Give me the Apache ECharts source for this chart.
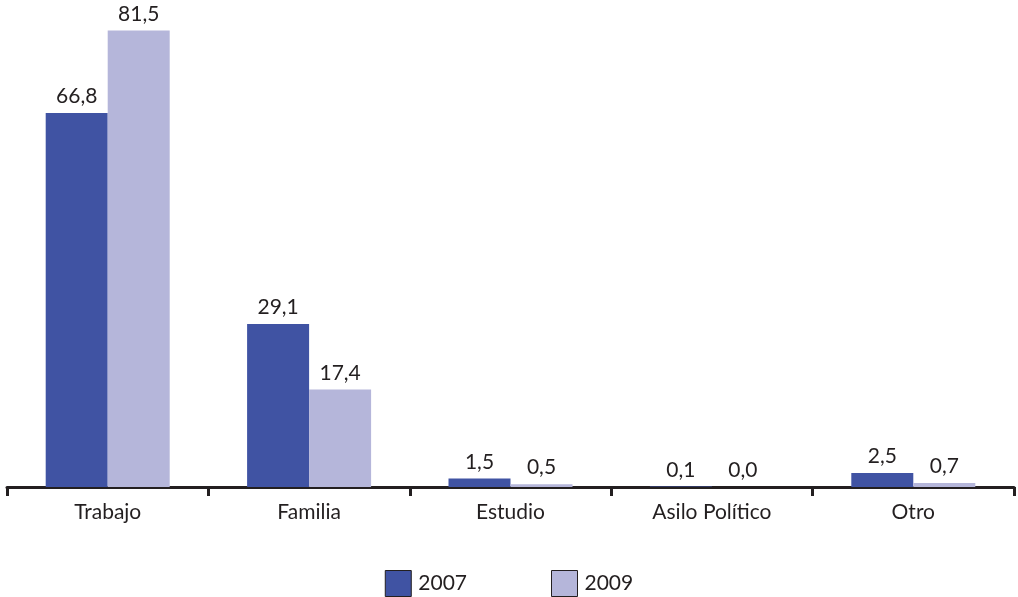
<!DOCTYPE html>
<html>
<head>
<meta charset="utf-8">
<script src="https://cdn.jsdelivr.net/npm/echarts@6/dist/echarts.min.js"></script>
<style>html,body{margin:0;padding:0;background:#fff;}#c{width:1018px;height:597px;}</style>
</head>
<body>
<div id="c"></div>
<script>
const categories = ['Trabajo', 'Familia', 'Estudio', 'Asilo Político', 'Otro'];
const seriesNames = ['2007', '2009'];
const values2007 = [66.8, 29.1, 1.5, 0.1, 2.5];
const values2009 = [81.5, 17.4, 0.5, 0.0, 0.7];

const FONT = 'Lato';
const TXT = '#231f20';
const colors = ['#4053a3', '#b5b6da'];

const chart = echarts.init(document.getElementById('c'), null, {renderer: 'canvas'});
const labelCfg = {
  show: true, position: 'top', distance: 6,
  fontFamily: FONT, fontSize: 21, color: TXT,
  formatter: p => p.value.toFixed(1).replace('.', ',')
};
chart.setOption({
  animation: false,
  textStyle: {fontFamily: FONT},
  grid: {left: 7, right: 4, top: 11, bottom: 110, containLabel: false},
  legend: {
    bottom: -5, left: 'center',
    itemWidth: 26, itemHeight: 26, itemGap: 84,
    textStyle: {fontFamily: FONT, fontSize: 21, color: TXT, padding: [0, 0, 0, 2]},
    data: seriesNames.map(n => ({name: n, itemStyle: {borderColor: '#231f20', borderWidth: 1}})),
    icon: 'rect'
  },
  xAxis: {
    type: 'category', data: categories,
    axisLine: {lineStyle: {color: TXT, width: 3}},
    axisTick: {show: true, length: 9, lineStyle: {color: TXT, width: 3}},
    axisLabel: {fontFamily: FONT, fontSize: 21, color: TXT, margin: 15}
  },
  yAxis: {
    type: 'value', min: 0, max: 85,
    show: false, splitLine: {show: false}
  },
  series: [
    {name: seriesNames[0], type: 'bar', data: values2007, barWidth: 62, barGap: '0%',
     itemStyle: {color: colors[0]}, label: labelCfg},
    {name: seriesNames[1], type: 'bar', data: values2009, barWidth: 62, barGap: '0%',
     itemStyle: {color: colors[1]}, label: labelCfg}
  ]
});
</script>
</body>
</html>
